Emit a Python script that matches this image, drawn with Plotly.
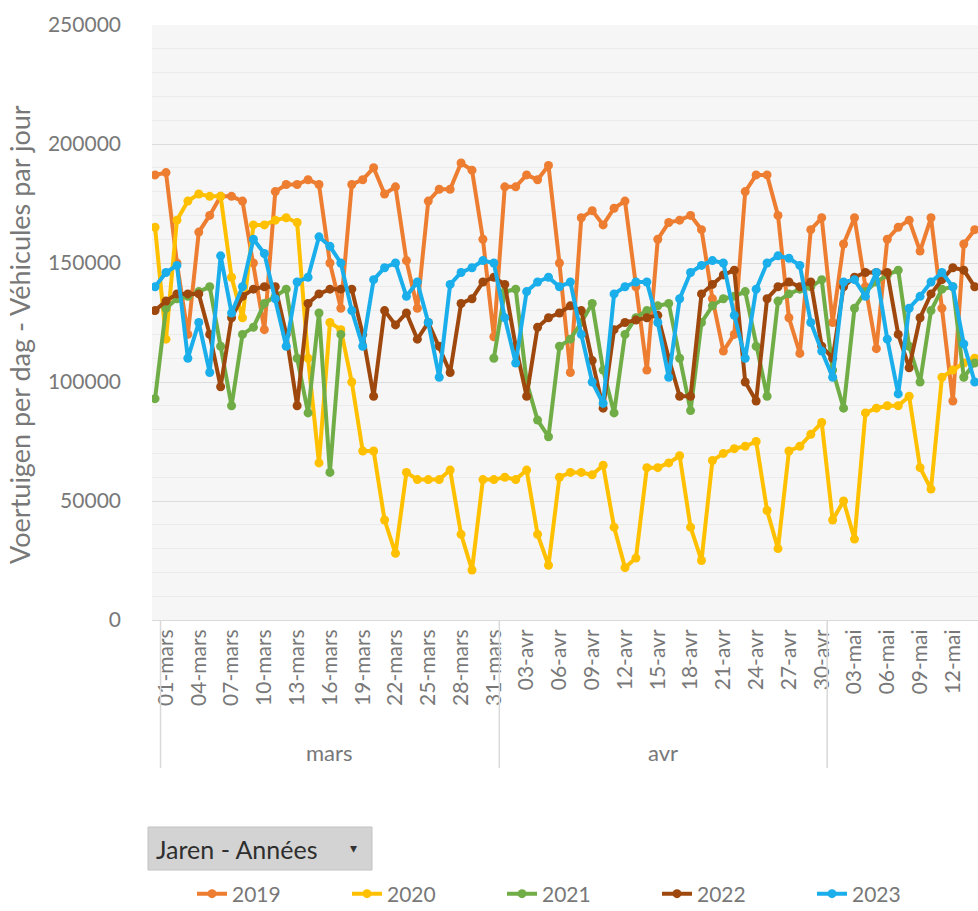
import plotly.graph_objects as go

# ---------------- data ----------------
days_feb = ["28-févr"]
days_mars = [f"{d:02d}-mars" for d in range(1, 32)]
days_avr = [f"{d:02d}-avr" for d in range(1, 31)]
days_mai = [f"{d:02d}-mai" for d in range(1, 15)]
categories = days_feb + days_mars + days_avr + days_mai

tick_labels = ["01-mars", "04-mars", "07-mars", "10-mars", "13-mars", "16-mars", "19-mars",
               "22-mars", "25-mars", "28-mars", "31-mars", "03-avr", "06-avr", "09-avr",
               "12-avr", "15-avr", "18-avr", "21-avr", "24-avr", "27-avr", "30-avr",
               "03-mai", "06-mai", "09-mai", "12-mai"]

months = ["mars", "avr"]
month_centers = [16, 46.5]
month_bounds = [0.5, 31.5, 61.5]

v2019 = [187000, 188000, 150000, 120000, 163000, 170000, 178000, 178000, 176000, 150000,
         122000, 180000, 183000, 183000, 185000, 183000, 150000, 131000, 183000, 185000,
         190000, 179000, 182000, 151000, 131000, 176000, 181000, 181000, 192000, 189000,
         160000, 119000, 182000, 182000, 187000, 185000, 191000, 150000, 104000, 169000,
         172000, 166000, 173000, 176000, 140000, 105000, 160000, 167000, 168000, 170000,
         164000, 135000, 113000, 120000, 180000, 187000, 187000, 170000, 127000, 112000,
         164000, 169000, 125000, 158000, 169000, 140000, 114000, 160000, 165000, 168000,
         155000, 169000, 131000, 92000, 158000, 164000]

v2020 = [165000, 118000, 168000, 176000, 179000, 178000, 178000, 144000, 127000, 166000,
         166000, 168000, 169000, 167000, 110000, 66000, 125000, 122000, 100000, 71000,
         71000, 42000, 28000, 62000, 59000, 59000, 59000, 63000, 36000, 21000,
         59000, 59000, 60000, 59000, 63000, 36000, 23000, 60000, 62000, 62000,
         61000, 65000, 39000, 22000, 26000, 64000, 64000, 66000, 69000, 39000,
         25000, 67000, 70000, 72000, 73000, 75000, 46000, 30000, 71000, 73000,
         78000, 83000, 42000, 50000, 34000, 87000, 89000, 90000, 90000, 94000,
         64000, 55000, 102000, 105000, 108000, 110000]

v2021 = [93000, 131000, 135000, 136000, 138000, 140000, 115000, 90000, 120000, 123000,
         133000, 136000, 139000, 110000, 87000, 129000, 62000, 120000, None, None,
         None, None, None, None, None, None, None, None, None, None,
         None, 110000, 138000, 139000, 100000, 84000, 77000, 115000, 118000, 125000,
         133000, 105000, 87000, 120000, 127000, 130000, 132000, 133000, 110000, 88000,
         125000, 132000, 135000, 136000, 138000, 115000, 94000, 134000, 137000, 139000,
         140000, 143000, 105000, 89000, 131000, 138000, 142000, 145000, 147000, 115000,
         100000, 130000, 139000, 140000, 102000, 108000]

v2022 = [130000, 134000, 137000, 137000, 137000, 120000, 98000, 127000, 136000, 139000,
         140000, 140000, 120000, 90000, 133000, 137000, 139000, 139000, 139000, 120000,
         94000, 130000, 124000, 129000, 118000, 125000, 115000, 104000, 133000, 135000,
         142000, 144000, 141000, 115000, 94000, 123000, 127000, 129000, 132000, 130000,
         109000, 89000, 122000, 125000, 126000, 127000, 128000, 110000, 94000, 94000,
         137000, 141000, 145000, 147000, 100000, 92000, 135000, 140000, 142000, 140000,
         142000, 115000, 110000, 140000, 144000, 146000, 146000, 146000, 120000, 106000,
         127000, 137000, 143000, 148000, 147000, 140000]

v2023 = [140000, 146000, 149000, 110000, 125000, 104000, 153000, 129000, 140000, 160000,
         154000, 135000, 115000, 142000, 144000, 161000, 157000, 150000, 130000, 115000,
         143000, 148000, 150000, 136000, 142000, 125000, 102000, 141000, 146000, 148000,
         151000, 150000, 127000, 108000, 138000, 142000, 144000, 140000, 142000, 120000,
         100000, 91000, 137000, 140000, 142000, 142000, 125000, 102000, 135000, 146000,
         149000, 151000, 150000, 128000, 110000, 139000, 150000, 153000, 152000, 149000,
         125000, 113000, 102000, 142000, 143000, 136000, 146000, 118000, 95000, 131000,
         136000, 142000, 146000, 140000, 116000, 100000]

series_names = ["2019", "2020", "2021", "2022", "2023"]
series_values = [v2019, v2020, v2021, v2022, v2023]
series_colors = ["#ED7D31", "#FFC000", "#70AD47", "#9E480E", "#1AAEEB"]

# ---------------- figure ----------------
FONT = "Lato, Open Sans, sans-serif"
TXT = "#787878"

W, H = 978, 911
L, R, T, B = 152, 0, 25, 911 - 620
pw, ph = W - L - R, H - T - B


def px(xs):                  # screen x -> paper
    return (xs - L) / pw


def py(ys):                  # screen y -> paper
    return (H - B - ys) / ph


fig = go.Figure()
for name, vals, col in zip(series_names, series_values, series_colors):
    fig.add_trace(go.Scatter(
        x=categories, y=vals, name=name, mode="lines+markers",
        line=dict(color=col, width=4),
        marker=dict(color=col, size=9),
    ))

shapes = []
for b in month_bounds:
    shapes.append(dict(type="line", xref="x", yref="paper", x0=b, x1=b,
                       y0=0, y1=py(768), line=dict(color="#d9d9d9", width=1.5)))
# pivot field button
shapes.append(dict(type="rect", xref="paper", yref="paper",
                   x0=px(148), x1=px(372), y0=py(870), y1=py(827),
                   fillcolor="#d3d3d3", line=dict(color="#c2c2c2", width=1), layer="below"))

annotations = []
for m, c in zip(months, month_centers):
    annotations.append(dict(text=m, xref="x", yref="paper", x=c, y=py(752),
                            xanchor="center", yanchor="middle", showarrow=False,
                            font=dict(family=FONT, size=22, color=TXT)))
annotations.append(dict(text="Voertuigen per dag - Véhicules par jour", xref="paper", yref="paper",
                        x=px(20), y=py(335), xanchor="center", yanchor="middle",
                        textangle=-90, showarrow=False,
                        font=dict(family=FONT, size=27, color=TXT)))
annotations.append(dict(text="Jaren - Années", xref="paper", yref="paper",
                        x=px(154), y=py(849), xanchor="left", yanchor="middle", showarrow=False,
                        font=dict(family=FONT, size=25, color="#2e2e2e")))
annotations.append(dict(text="▾", xref="paper", yref="paper",
                        x=px(353), y=py(848), xanchor="center", yanchor="middle", showarrow=False,
                        font=dict(family="DejaVu Sans", size=14, color="#333333")))

fig.update_layout(
    width=W, height=H, autosize=False,
    margin=dict(l=L, r=R, t=T, b=B, autoexpand=False),
    paper_bgcolor="white", plot_bgcolor="#f6f6f6",
    font=dict(family=FONT, size=21, color=TXT),
    showlegend=True,
    legend=dict(orientation="h", x=px(192), xanchor="left", y=py(894), yanchor="middle",
                font=dict(family=FONT, size=21, color=TXT),
                entrywidth=110, entrywidthmode="pixels", bgcolor="rgba(0,0,0,0)"),
    shapes=shapes, annotations=annotations,
)
fig.update_xaxes(type="category", categoryorder="array", categoryarray=categories,
                 range=[-0.28, 75.3], tickmode="array", tickvals=tick_labels, ticktext=tick_labels,
                 tickangle=-90, showgrid=False, zeroline=False, ticks="", automargin=False,
                 showline=True, linecolor="#d9d9d9", linewidth=1,
                 tickfont=dict(family=FONT, size=21, color=TXT))
fig.update_yaxes(range=[0, 250000], dtick=50000, tickformat="d", showgrid=True,
                 gridcolor="#dcdcdc", gridwidth=1, zeroline=False, ticks="", automargin=False,
                 minor=dict(dtick=10000, showgrid=True, gridcolor="#ebebeb", gridwidth=1),
                 ticklabelstandoff=30,
                 tickfont=dict(family=FONT, size=21, color=TXT))

fig.write_html(
    "out.html",
    config={"displayModeBar": False},
    post_script="document.body.style.margin='0';document.body.style.padding='0';"
                "document.documentElement.style.overflow='hidden';",
)
